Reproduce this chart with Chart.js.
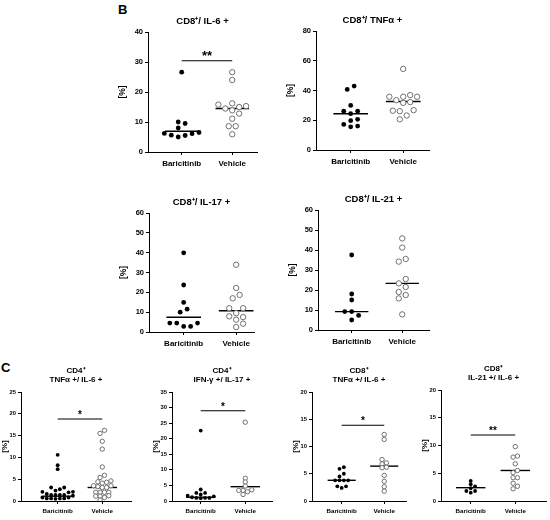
<!DOCTYPE html>
<html>
<head>
<meta charset="utf-8">
<script src="https://cdn.jsdelivr.net/npm/chart.js@4/dist/chart.umd.min.js"></script>
<style>
  body { margin: 0; background: #fff; width: 550px; height: 520px; position: relative; overflow: hidden; }
  .lbl { position: absolute; font: bold 13px "Liberation Sans", Arial, sans-serif; color: #000; }
</style>
</head>
<body>
<div class="lbl" style="left:118px;top:2px">B</div>
<div class="lbl" style="left:1px;top:360px">C</div>
<script>
const groups = ['Baricitinib', 'Vehicle'];

// panel B, values in %
const il6Bari = [26.6, 10.0, 9.5, 8.0, 6.5, 6.2, 6.1, 5.6, 5.5, 5.0];
const il6Veh = [26.6, 24.0, 16.2, 15.8, 15.3, 15.0, 14.5, 13.9, 12.8, 11.1, 8.6, 8.6, 5.9];
const tnfBari = [43.0, 40.7, 30.0, 26.1, 26.1, 24.4, 20.6, 19.7, 17.2, 16.1, 15.6];
const tnfVeh = [54.5, 36.9, 35.8, 35.8, 35.8, 33.5, 32.2, 31.7, 26.8, 26.4, 26.1, 23.2, 20.6];
const il17Bari = [39.9, 23.7, 14.9, 11.5, 10.0, 4.5, 4.5, 4.5, 2.8, 2.8];
const il17Veh = [33.9, 22.2, 18.7, 17.0, 12.0, 12.0, 9.5, 7.9, 7.5, 6.2, 4.2, 2.5];
const il21Bari = [37.5, 18.0, 15.0, 9.2, 9.2, 7.3, 5.0];
const il21Veh = [45.8, 41.2, 35.5, 34.2, 25.5, 23.3, 21.5, 19.0, 17.5, 15.8, 7.8];

// panel C
const cd4TnfIl6Bari = [10.6, 8.2, 7.3, 3.1, 3.1, 2.7, 2.4, 2.1, 2.1, 2.0, 1.6, 1.4, 1.4, 1.4, 1.4, 1.2, 0.8, 0.8, 0.6, 0.6, 0.6, 0.6, 0.5];
const cd4TnfIl6Veh = [16.2, 15.5, 13.7, 11.9, 7.8, 5.9, 5.4, 4.6, 4.4, 4.3, 4.1, 3.5, 3.5, 3.3, 3.1, 3.1, 2.0, 2.0, 2.0, 2.0, 1.2, 1.1, 1.1, 0.8, 0.2];
const cd4IfnIl17Bari = [22.6, 3.7, 2.6, 2.6, 2.1, 1.7, 1.5, 1.2, 1.0, 1.0, 1.0, 0.9];
const cd4IfnIl17Veh = [25.3, 7.3, 6.1, 4.8, 3.6, 3.4, 3.4, 3.0, 2.1];
const cd8TnfIl6Bari = [6.2, 5.9, 5.0, 4.5, 3.8, 3.8, 3.8, 3.8, 2.7, 2.7, 2.4];
const cd8TnfIl6Veh = [12.2, 11.3, 7.6, 7.0, 6.8, 6.2, 6.1, 4.7, 3.6, 2.6, 1.8];
const cd8Il21Il6Bari = [3.6, 3.0, 2.65, 2.3, 1.8, 1.8, 1.5];
const cd8Il21Il6Veh = [9.8, 8.1, 7.9, 6.7, 5.5, 5.1, 4.2, 4.2, 3.2, 2.65, 2.2];

// median lines [Baricitinib, Vehicle]
const il6Med = [6.9, 14.5];
const tnfMed = [24.4, 32.6];
const il17Med = [7.4, 10.7];
const il21Med = [9.2, 23.3];
const cd4TnfIl6Med = [1.1, 3.1];
const cd4IfnIl17Med = [1.2, 4.6];
const cd8TnfIl6Med = [3.8, 6.4];
const cd8Il21Il6Med = [2.4, 5.5];

// significance bars [height, stars]
const il6Sig = [30.4, '**'];
const cd4TnfIl6Sig = [18.8, '*'];
const cd4IfnIl17Sig = [29.0, '*'];
const cd8TnfIl6Sig = [13.9, '*'];
const cd8Il21Il6Sig = [11.9, '**'];

const FONT = '"Liberation Sans", Arial, sans-serif';
Chart.defaults.font.family = FONT;
Chart.defaults.color = '#000';

// simple beeswarm: px offsets so dots do not sit on top of each other,
// then every cluster of close values is centred on the group
function swarm(values, pxPerVal, step, minDy) {
  const order = values.map((v, i) => i).sort((a, b) => values[a] - values[b]);
  const placed = [];
  const off = [];
  for (const i of order) {
    const y = values[i] * pxPerVal;
    for (let k = 0; ; k++) {
      const c = k === 0 ? 0 : (k % 2 ? 1 : -1) * Math.ceil(k / 2) * step;
      if (placed.every(p => Math.abs(p.y - y) >= minDy || Math.abs(p.x - c) >= step * 0.99)) {
        off[i] = c;
        placed.push({ x: c, y });
        break;
      }
    }
  }
  let cluster = [order[0]];
  const flush = () => {
    const mean = cluster.reduce((s, i) => s + off[i], 0) / cluster.length;
    const shift = Math.round(mean / (step / 2)) * (step / 2);
    cluster.forEach(i => { off[i] -= shift; });
  };
  for (let n = 1; n < order.length; n++) {
    const prev = order[n - 1], cur = order[n];
    if ((values[cur] - values[prev]) * pxPerVal < minDy) cluster.push(cur);
    else { flush(); cluster = [cur]; }
  }
  flush();
  return off;
}

function makePanel(p) {
  const big = p.big;
  const box = p.box;
  const yW = big ? 30 : 21, padTop = big ? 26 : 34, xH = big ? 17 : 15, padR = 4;
  const w = box.r - box.l + yW + padR;
  const h = box.b - box.t + padTop + xH;
  const cv = document.createElement('canvas');
  cv.width = w; cv.height = h;
  cv.style.position = 'absolute';
  cv.style.left = (box.l - yW) + 'px';
  cv.style.top = (box.t - padTop) + 'px';
  document.body.appendChild(cv);

  const unit = box.g2 - box.g1;
  const pxPerVal = (box.b - box.t) / p.max;
  const step = big ? 7 : 4.4, minDy = big ? 6 : 3.3;
  const r = big ? 2.4 : 1.9, ro = big ? 2.7 : 2.2;

  const pts = (vals, g) => {
    const off = swarm(vals, pxPerVal, step, minDy);
    return vals.map((v, i) => ({ x: g + off[i] / unit, y: v }));
  };
  const line = (x0, x1, y, wd) => ({
    data: [{ x: x0, y }, { x: x1, y }],
    showLine: true, borderColor: '#000', borderWidth: wd, pointRadius: 0
  });

  const datasets = [
    { data: pts(p.bari, 1), pointRadius: r, backgroundColor: '#000', borderColor: '#000', borderWidth: 0 },
    { data: pts(p.veh, 2), pointRadius: ro, backgroundColor: '#fff', borderColor: '#707070', borderWidth: 1 },
    line(1 - 0.33, 1 + 0.33, p.med[0], 1.4),
    line(2 - 0.33, 2 + 0.33, p.med[1], 1.4)
  ];
  if (p.sig) datasets.push(line(1, 2, p.sig[0], 1.1));

  const labels = {
    id: 'labels',
    afterDraw(chart) {
      const ctx = chart.ctx, a = chart.chartArea;
      ctx.save();
      ctx.fillStyle = '#000';
      ctx.textAlign = 'center';
      ctx.textBaseline = 'middle';
      ctx.font = `bold ${big ? 9.5 : 8}px ${FONT}`;
      const cx = (a.left + a.right) / 2;
      if (big) {
        ctx.fillText(p.title[0], cx, a.top - 11);
      } else {
        ctx.fillText(p.title[0], cx, a.top - 21);
        ctx.fillText(p.title[1], cx, a.top - 12);
      }
      if (p.sig) {
        const xs = chart.scales.x, ys = chart.scales.y;
        ctx.textBaseline = 'alphabetic';
        ctx.font = `bold ${big ? 13 : 10}px ${FONT}`;
        ctx.fillText(p.sig[1], xs.getPixelForValue(1.5), ys.getPixelForValue(p.sig[0]) - 1);
      }
      ctx.restore();
    }
  };

  new Chart(cv, {
    type: 'scatter',
    data: { datasets },
    options: {
      responsive: false,
      animation: false,
      layout: { padding: { top: padTop, right: padR, left: 0, bottom: 0 } },
      plugins: { legend: { display: false }, tooltip: { enabled: false } },
      scales: {
        x: {
          type: 'linear',
          min: 1 - (box.g1 - box.l) / unit,
          max: 2 + (box.r - box.g2) / unit,
          afterBuildTicks: s => { s.ticks = [{ value: 1 }, { value: 2 }]; },
          afterFit: s => { s.height = xH; },
          ticks: {
            autoSkip: false, maxRotation: 0, padding: 4,
            font: { size: big ? 8 : 6.2, weight: 'bold' },
            callback: v => groups[v - 1]
          },
          grid: { drawOnChartArea: false, drawTicks: true, tickLength: 3, color: '#000' },
          border: { color: '#000', width: 1 }
        },
        y: {
          min: 0, max: p.max,
          afterFit: s => { s.width = yW; },
          ticks: { stepSize: p.stepSize, padding: 2, font: { size: big ? 7.5 : 5.8, weight: 'bold' } },
          title: { display: true, text: '[%]', padding: 0, font: { size: big ? 8.5 : 8, weight: 'bold' } },
          grid: { drawOnChartArea: false, drawTicks: true, tickLength: 3, color: '#000' },
          border: { color: '#000', width: 1 }
        }
      }
    },
    plugins: [labels]
  });
}

makePanel({ big: true, box: { l: 148, r: 258, t: 32, b: 152, g1: 182, g2: 233 }, max: 40, stepSize: 10,
  title: ['CD8⁺/ IL-6 +'], bari: il6Bari, veh: il6Veh, med: il6Med, sig: il6Sig });
makePanel({ big: true, box: { l: 316, r: 430, t: 31, b: 150, g1: 351, g2: 404 }, max: 80, stepSize: 20,
  title: ['CD8⁺/ TNFα +'], bari: tnfBari, veh: tnfVeh, med: tnfMed });
makePanel({ big: true, box: { l: 149, r: 255, t: 213, b: 332, g1: 184, g2: 237 }, max: 60, stepSize: 10,
  title: ['CD8⁺/ IL-17 +'], bari: il17Bari, veh: il17Veh, med: il17Med });
makePanel({ big: true, box: { l: 318, r: 430, t: 210, b: 330, g1: 352, g2: 403 }, max: 60, stepSize: 10,
  title: ['CD8⁺/ IL-21 +'], bari: il21Bari, veh: il21Veh, med: il21Med });

makePanel({ big: false, box: { l: 21, r: 132, t: 392, b: 501, g1: 58, g2: 103 }, max: 25, stepSize: 5,
  title: ['CD4⁺', 'TNFα +/ IL-6 +'], bari: cd4TnfIl6Bari, veh: cd4TnfIl6Veh, med: cd4TnfIl6Med, sig: cd4TnfIl6Sig });
makePanel({ big: false, box: { l: 172, r: 273, t: 392, b: 501, g1: 201, g2: 246 }, max: 35, stepSize: 5,
  title: ['CD4⁺', 'IFN-γ +/ IL-17 +'], bari: cd4IfnIl17Bari, veh: cd4IfnIl17Veh, med: cd4IfnIl17Med, sig: cd4IfnIl17Sig });
makePanel({ big: false, box: { l: 312, r: 407, t: 392, b: 501, g1: 342, g2: 385 }, max: 20, stepSize: 5,
  title: ['CD8⁺', 'TNFα +/ IL-6 +'], bari: cd8TnfIl6Bari, veh: cd8TnfIl6Veh, med: cd8TnfIl6Med, sig: cd8TnfIl6Sig });
makePanel({ big: false, box: { l: 441, r: 547, t: 390, b: 501, g1: 471, g2: 516 }, max: 20, stepSize: 5,
  title: ['CD8⁺', 'IL-21 +/ IL-6 +'], bari: cd8Il21Il6Bari, veh: cd8Il21Il6Veh, med: cd8Il21Il6Med, sig: cd8Il21Il6Sig });
</script>
</body>
</html>
